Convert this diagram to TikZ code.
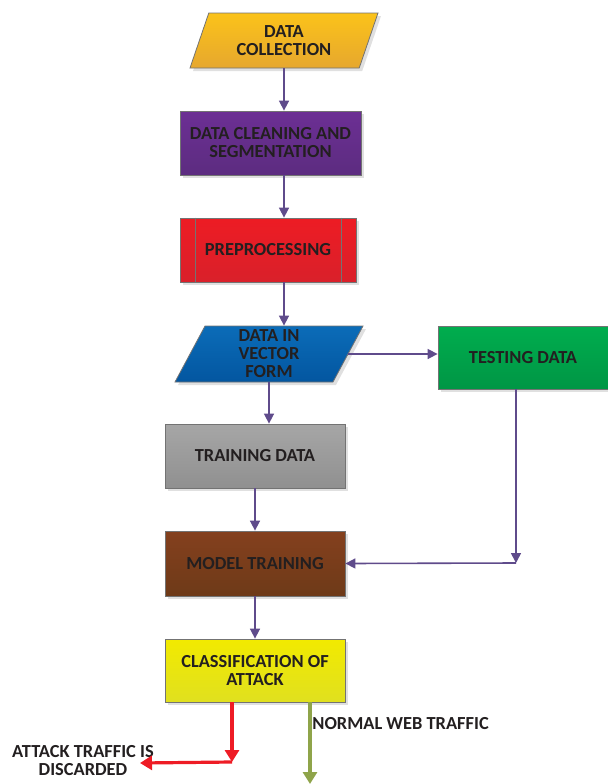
\documentclass[tikz,border=0pt]{standalone}
\usepackage{fontspec}
\setmainfont{Carlito}
\usetikzlibrary{shapes.geometric,arrows.meta,shadows}
\definecolor{txt}{HTML}{231F20}
\definecolor{flowc}{HTML}{5F4B8B}
\definecolor{redc}{HTML}{EE1C25}
\definecolor{olivec}{HTML}{8FA44A}
\begin{document}
\begin{tikzpicture}[x=0.5pt,y=-0.5pt,
  label font/.style={font=\bfseries\fontsize{9.2}{9}\selectfont,text=txt},
  box/.style={rectangle,draw=black!55,line width=0.4pt,inner sep=0pt,align=center,label font,
    drop shadow={shadow xshift=1.5pt,shadow yshift=-1.5pt,fill=black!12,opacity=1}},
  slanted/.style={box,trapezium,trapezium left angle=58,trapezium right angle=122,
    trapezium stretches body},
  flow/.style={draw=flowc,line width=0.8pt,-{Triangle[width=5pt,length=5pt]}},
  thick flow/.style={line width=1.6pt,-{Triangle[width=7pt,length=6pt]}}]
\useasboundingbox (0,0) rectangle (608,784);
\node[slanted,minimum width=94pt,minimum height=27.5pt,top color={rgb,255:red,251;green,195;blue,26},bottom color={rgb,255:red,230;green,167;blue,46}] (dcoll) at (284,40.5) {DATA\\COLLECTION};
\node[box,minimum width=90.5pt,minimum height=32pt,top color={rgb,255:red,108;green,47;blue,148},bottom color={rgb,255:red,92;green,44;blue,128}] (clean) at (270.5,143) {DATA CLEANING AND\\SEGMENTATION};
\node[box,minimum width=88pt,minimum height=32pt,top color={rgb,255:red,237;green,28;blue,36},bottom color={rgb,255:red,217;green,32;blue,42}] (prep) at (268,250) {PREPROCESSING};
\draw[black!55,line width=0.4pt] ([xshift=8pt]prep.north west) -- ([xshift=8pt]prep.south west)
  ([xshift=-7.5pt]prep.north east) -- ([xshift=-7.5pt]prep.south east);
\node[slanted,minimum width=94pt,minimum height=28pt,top color={rgb,255:red,11;green,108;blue,184},bottom color={rgb,255:red,3;green,86;blue,160}] (vector) at (269,354) {DATA IN\\VECTOR\\FORM};
\node[box,minimum width=85pt,minimum height=31.5pt,top color={rgb,255:red,0;green,173;blue,78},bottom color={rgb,255:red,0;green,150;blue,69}] (test) at (523,357.5) {TESTING DATA};
\node[box,minimum width=90pt,minimum height=32pt,top color={rgb,255:red,166;green,166;blue,166},bottom color={rgb,255:red,144;green,144;blue,144}] (train) at (255,456) {TRAINING DATA};
\node[box,minimum width=90pt,minimum height=32.5pt,top color={rgb,255:red,132;green,64;blue,30},bottom color={rgb,255:red,110;green,58;blue,24}] (model) at (255,563.5) {MODEL TRAINING};
\node[box,minimum width=90pt,minimum height=31.5pt,top color={rgb,255:red,242;green,234;blue,0},bottom color={rgb,255:red,224;green,224;blue,31}] (class) at (255,670.5) {CLASSIFICATION OF\\ATTACK};
\node[anchor=west,inner sep=0pt,label font] (normal) at (312,724) {NORMAL WEB TRAFFIC};
\node[inner sep=0pt,align=center,label font] (attack) at (83,761) {ATTACK TRAFFIC IS\\DISCARDED};
\coordinate (corner) at (516,563);
\coordinate (redbend) at (232,762);
\coordinate (redend) at (140,763);
\coordinate (greenend) at (310,784);
\draw[flow] (dcoll.south) -- (dcoll.south |- clean.north);
\draw[flow] (dcoll.south |- clean.south) -- (dcoll.south |- prep.north);
\draw[flow] (dcoll.south |- prep.south) -- (dcoll.south |- vector.north);
\draw[flow] (vector.east) -- (vector.east -| test.west);
\draw[flow] (vector.south) -- (vector.south |- train.north);
\draw[flow] (train) -- (model);
\draw[flow] (corner |- test.south) -- (corner);
\draw[flow] (corner) -- (model.east);
\draw[flow] (model) -- (class);
\draw[flow,draw=redc,thick flow] (redbend |- class.south) -- (redbend);
\draw[flow,draw=redc,thick flow] (redbend) -- (redend);
\draw[flow,draw=olivec,thick flow] (greenend |- class.south) -- (greenend);
\end{tikzpicture}
\end{document}
